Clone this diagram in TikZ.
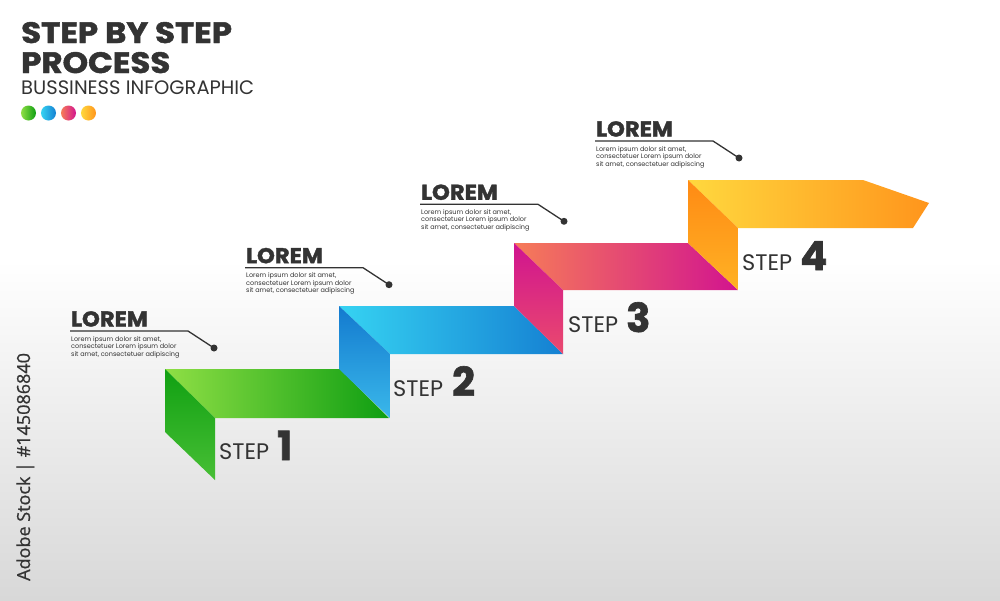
\documentclass[tikz,border=0pt]{standalone}
\usepackage{fontspec}
\setmainfont{Poppins}
\newfontfamily\hvfont{Poppins}[BoldFeatures={FakeBold=1.6}]
\newfontfamily\wmfont{Open Sans}[FakeBold=0.8]
\definecolor{tc}{HTML}{333333}
\definecolor{gA}{HTML}{8FDF45}\definecolor{gB}{HTML}{0E9E12}
\definecolor{gC}{HTML}{10A012}\definecolor{gD}{HTML}{48BF35}
\definecolor{bA}{HTML}{36D3F2}\definecolor{bB}{HTML}{1580D2}
\definecolor{bC}{HTML}{137ACF}\definecolor{bD}{HTML}{3AB8EA}
\definecolor{pA}{HTML}{F67C58}\definecolor{pB}{HTML}{D2148F}
\definecolor{pC}{HTML}{D0148F}\definecolor{pD}{HTML}{EA4A6E}
\definecolor{oA}{HTML}{FFD83E}\definecolor{oB}{HTML}{FF951C}
\definecolor{oC}{HTML}{FF8A14}\definecolor{oD}{HTML}{FFB224}
\definecolor{bgbot}{HTML}{D8D8D8}
\tikzset{
  txt/.style={anchor=base west, inner sep=0pt, text=tc},
  ttl/.style={txt, xscale=1.1, font=\hvfont\bfseries\fontsize{29.5}{29.5}\selectfont},
  sub/.style={txt, font=\fontsize{19.5}{19.5}\selectfont},
  lor/.style={txt, xscale=1.055, font=\hvfont\bfseries\fontsize{21.5}{21.5}\selectfont},
  small/.style={txt, font=\fontsize{6.5}{6.5}\selectfont},
  steplbl/.style={txt, font=\fontsize{22.5}{22.5}\selectfont},
  stepnum/.style={txt, font=\hvfont\bfseries\fontsize{40}{40}\selectfont},
  leader/.style={draw=tc, line width=1.3pt},
  face/.style={draw=none}
}
\newcommand{\loremblock}[3]{%
  \coordinate (#3a) at (#1,#2);
  \coordinate (#3b) at (#1+118,#2);
  \coordinate (#3c) at (#1+144,#2+17);
  \node[lor] (#3t) at (#1+1,#2-4.5) {LOREM};
  \draw[leader] (#3a) -- (#3b) -- (#3c);
  \fill[tc] (#3c) circle (3.5);
  \node[small] (#3l1) at (#1+1,#2+10) {Lorem ipsum dolor sit amet,};
  \node[small] (#3l2) at (#1+1,#2+17.6) {consectetuer Lorem ipsum dolor};
  \node[small] (#3l3) at (#1+1,#2+25.2) {sit amet, consectetuer adipiscing};
}
\begin{document}
\begin{tikzpicture}[x=1pt,y=-1pt]
\useasboundingbox (0,0) rectangle (1000,600);
\fill[white] (0,0) rectangle (1000,600);
\shade[top color=white, bottom color=bgbot] (0,260) rectangle (1000,600);

% title
\node[ttl] (title1) at (21,43) {STEP BY STEP};
\node[ttl] (title2) at (21,73) {PROCESS};
\node[sub] (subt) at (21,94) {BUSSINESS INFOGRAPHIC};
\shade[left color=gA, right color=gB] (28.5,113) circle (7.5);
\shade[left color=bA, right color=bB] (48.5,113) circle (7.5);
\shade[left color=pA, right color=pB] (68.5,113) circle (7.5);
\shade[left color=oA, right color=oB] (88.5,113) circle (7.5);

% step 1 (green)
\shade[face, left color=gA, right color=gB] (165,369) -- (340,369) -- (389,418) -- (215,418) -- cycle;
\shade[face, top color=gC, bottom color=gD] (165,369) -- (215,418) -- (215,480) -- (165,432) -- cycle;
% step 2 (blue)
\shade[face, left color=bA, right color=bB] (339,306) -- (514,306) -- (563,354) -- (390,354) -- cycle;
\shade[face, top color=bC, bottom color=bD] (339,306) -- (390,354) -- (390,418) -- (339,369) -- cycle;
% step 3 (pink)
\shade[face, left color=pA, right color=pB] (514,243) -- (688,243) -- (738,290) -- (563,290) -- cycle;
\shade[face, top color=pC, bottom color=pD] (514,243) -- (563,290) -- (563,354) -- (514,306) -- cycle;
% step 4 (orange)
\shade[face, left color=oA, right color=oB] (688,180) -- (863,180) -- (929,203) -- (913,228) -- (738,228) -- cycle;
\shade[face, top color=oC, bottom color=oD] (688,180) -- (738,228) -- (738,290) -- (688,243) -- cycle;

% step labels
\node[steplbl] (s1) at (219,459) {STEP};
\node[stepnum] (n1) at (277,460) {1};
\node[steplbl] (s2) at (393,396) {STEP};
\node[stepnum] (n2) at (452,396) {2};
\node[steplbl] (s3) at (568,332) {STEP};
\node[stepnum] (n3) at (626,332) {3};
\node[steplbl] (s4) at (742,270) {STEP};
\node[stepnum] (n4) at (800,270) {4};

% lorem blocks
\loremblock{70}{331}{ba}
\loremblock{245}{267.7}{bb}
\loremblock{420}{204.3}{bc}
\loremblock{595}{141}{bd}

% vertical stock label
\node[anchor=base west, inner sep=0pt, rotate=90, text=tc, font=\wmfont\fontsize{18}{18}\selectfont] (wm) at (30,581) {Adobe Stock | \#145086840};
\end{tikzpicture}
\end{document}
